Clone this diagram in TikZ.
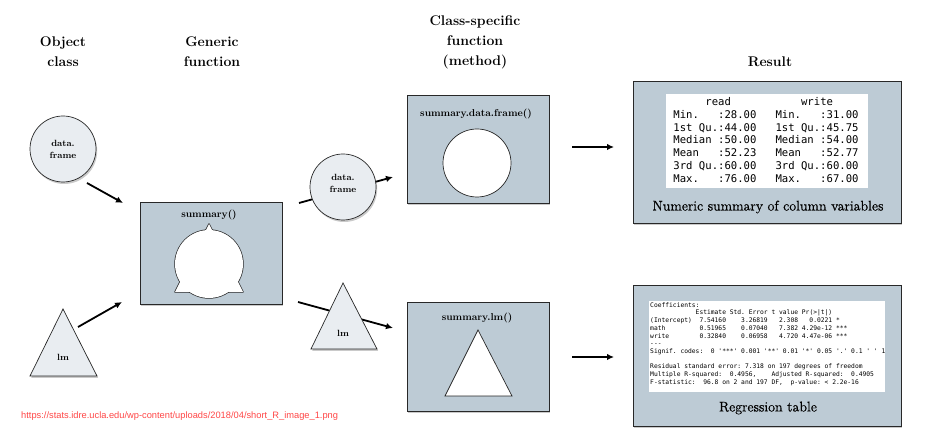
\documentclass[tikz,border=0pt]{standalone}
\usepackage{fontspec}
\setmonofont{DejaVu Sans Mono}
\newfontfamily\urlfont{Liberation Sans}
\newfontfamily\capfont[FakeBold=0.6]{Latin Modern Roman}
\usetikzlibrary{arrows.meta,shadows}
\definecolor{boxfill}{RGB}{189,203,213}
\definecolor{objfill}{RGB}{233,237,241}
\definecolor{edgec}{RGB}{40,40,40}
\definecolor{urlred}{RGB}{255,70,70}
\newcommand\mylinebox[1]{\mbox{#1}}
\begin{document}
\begin{tikzpicture}[x=1pt,y=-1pt,
  head/.style={font=\bfseries\fontsize{14}{20}\selectfont, align=center, inner sep=0pt},
  shd/.style={drop shadow={shadow xshift=1.2pt, shadow yshift=-2pt, opacity=0.35, fill=black!60}},
  mbox/.style={draw=edgec, fill=boxfill, line width=0.8pt, shd, inner sep=0pt, outer sep=0pt, anchor=north west},
  wbox/.style={fill=white, inner sep=0pt, anchor=north west},
  objshape/.style={draw=edgec, fill=objfill, line width=0.7pt, shd},
  objtext/.style={font=\bfseries\fontsize{9}{12}\selectfont, align=center, inner sep=0pt},
  title/.style={font=\bfseries\fontsize{10}{12}\selectfont, inner sep=0pt},
  caption/.style={font=\capfont\fontsize{14}{16}\selectfont, inner sep=0pt},
  conn/.style={-{Latex[length=7pt,width=6.5pt]}, line width=1.8pt, black}
]
\useasboundingbox (0,0) rectangle (937,435);

% headings
\node[head] (hObj) at (63,52) {Object\\class};
\node[head] (hGen) at (212,52) {Generic\\function};
\node[head] (hMeth) at (475,42) {Class-specific\\function\\(method)};
\node[head] (hRes) at (770,62) {Result};

% generic box
\node[mbox, minimum width=142pt, minimum height=102pt] (gen) at (140,202) {};
\node[title] (genT) at (209,215) {summary()};
\draw[edgec, line width=1.4pt, line join=round] (209,264) circle[radius=34];
\draw[edgec, line width=1.4pt, line join=round] (209,224) -- (175,292) -- (243,292) -- cycle;
\fill[white] (209,264) circle[radius=34];
\fill[white] (209,224) -- (175,292) -- (243,292) -- cycle;

% method boxes
\node[mbox, minimum width=142pt, minimum height=108pt] (mdf) at (407,95) {};
\node[title] (mdfT) at (476,114) {summary.data.frame()};
\draw[edgec, fill=white, line width=0.7pt] (477,163) circle[radius=34];

\node[mbox, minimum width=142pt, minimum height=109pt] (mlm) at (407,302) {};
\node[title] (mlmT) at (477,318) {summary.lm()};
\draw[edgec, fill=white, line width=0.7pt] (478,330) -- (445,396) -- (512,396) -- cycle;

% result boxes
\node[mbox, minimum width=268pt, minimum height=142pt] (r1) at (633,81) {};
\node[wbox, minimum width=202pt, minimum height=94pt] (r1w) at (666,94) {};
\node[font=\ttfamily\fontsize{10.6}{12.7}\selectfont, align=left, inner sep=0pt] (r1t) at (766,140) {%
\mylinebox{~~~~~read~~~~~~~~~~~write}\\
\mylinebox{Min.~~~:28.00~~~Min.~~~:31.00}\\
\mylinebox{1st~Qu.:44.00~~~1st~Qu.:45.75}\\
\mylinebox{Median~:50.00~~~Median~:54.00}\\
\mylinebox{Mean~~~:52.23~~~Mean~~~:52.77}\\
\mylinebox{3rd~Qu.:60.00~~~3rd~Qu.:60.00}\\
\mylinebox{Max.~~~:76.00~~~Max.~~~:67.00}};
\node[caption] (r1c) at (768,207) {Numeric summary of column variables};

\node[mbox, minimum width=268pt, minimum height=141pt] (r2) at (633,285) {};
\node[wbox, minimum width=236pt, minimum height=91pt] (r2w) at (649,301) {};
\node[font=\ttfamily\fontsize{6.3}{7.7}\selectfont, align=left, inner sep=0pt, anchor=west] (r2t) at (650,344) {%
\mylinebox{Coefficients:}\\
\mylinebox{~~~~~~~~~~~~Estimate~Std.~Error~t~value~Pr(>|t|)}\\
\mylinebox{(Intercept)~~7.54160~~~~3.26819~~~2.308~~~0.0221~*}\\
\mylinebox{math~~~~~~~~~0.51965~~~~0.07040~~~7.382~4.29e-12~***}\\
\mylinebox{write~~~~~~~~0.32840~~~~0.06958~~~4.720~4.47e-06~***}\\
\mylinebox{---}\\
\mylinebox{Signif.~codes:~~0~'***'~0.001~'**'~0.01~'*'~0.05~'.'~0.1~'~'~1}\\
\mylinebox{~}\\
\mylinebox{Residual~standard~error:~7.318~on~197~degrees~of~freedom}\\
\mylinebox{Multiple~R-squared:~~0.4956,~~~~Adjusted~R-squared:~~0.4905}\\
\mylinebox{F-statistic:~~96.8~on~2~and~197~DF,~~p-value:~<~2.2e-16}};
\node[caption] (r2c) at (768,408) {Regression table};

% connector coordinates
\coordinate (dfAout) at (87,183);
\coordinate (genInA) at (123,203);
\coordinate (lmAout) at (78,327);
\coordinate (genInB) at (122,302);
\coordinate (genOutA) at (299,203);
\coordinate (mdfIn) at (393,177);
\coordinate (genOutB) at (298,302);
\coordinate (mlmIn) at (393,328);
\coordinate (mdfOut) at (572,147);
\coordinate (r1In) at (614,147);
\coordinate (mlmOut) at (572,357);
\coordinate (r2In) at (614,357);

\draw[conn] (dfAout) -- (genInA);
\draw[conn] (lmAout) -- (genInB);
\draw[conn] (genOutA) -- (mdfIn);
\draw[conn] (genOutB) -- (mlmIn);
\draw[conn] (mdfOut) -- (r1In);
\draw[conn] (mlmOut) -- (r2In);

% object shapes
\node[objshape, circle, minimum size=66pt, inner sep=0pt] (dfA) at (63,149) {};
\node[objtext] (dfAt) at (63,149) {data.\\frame};
\draw[objshape] (63,309) -- (30,376) -- (97,376) -- cycle;
\node[objtext] (lmA) at (63,357) {lm};

\node[objshape, circle, minimum size=66pt, inner sep=0pt] (dfB) at (343,187) {};
\node[objtext] (dfBt) at (343,183) {data.\\frame};
\draw[objshape] (343,283) -- (311,349) -- (377,349) -- cycle;
\node[objtext] (lmB) at (343,333) {lm};

% source
\node[anchor=west, inner sep=0pt, text=urlred, font=\urlfont\fontsize{9.3}{10}\selectfont] (url) at (21,416) {https://stats.idre.ucla.edu/wp-content/uploads/2018/04/short\_R\_image\_1.png};
\end{tikzpicture}
\end{document}
